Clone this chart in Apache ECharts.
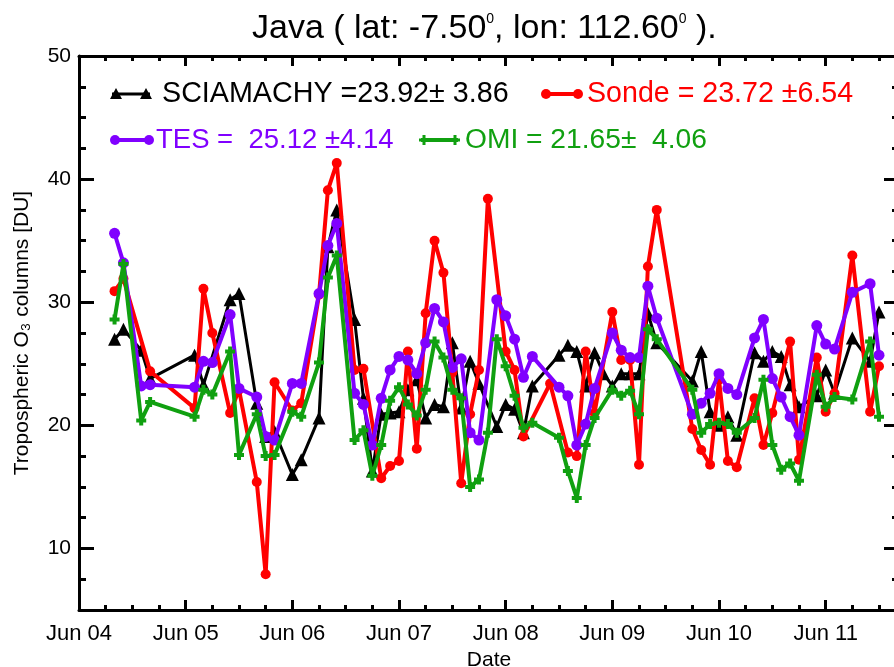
<!DOCTYPE html>
<html><head><meta charset="utf-8">
<script src="https://cdn.jsdelivr.net/npm/echarts@6/dist/echarts.min.js"></script>
<style>html,body{margin:0;padding:0;background:#fff}#c{width:894px;height:667px}</style>
</head><body><div id="c"></div>
<script>
// x = months since Jun 2004
const xTickLabels = ['Jun 04','Jun 05','Jun 06','Jun 07','Jun 08','Jun 09','Jun 10','Jun 11'];
const yTickLabels = [10,20,30,40,50];

const sciaX = [4,5,7,8,13,14,17,18,20,21,22,24,25,27,28,29,31,32,33,34,35,36,37,38,39,40,41,42,43,44,45,47,48,49,50,51,54,55,56,57,58,59,60,61,62,63,64,65,69,70,71,72,73,74,76,77,78,79,80,81,83,84,85,87,89,90];
const sciaY = [27.0,27.8,26.1,23.8,25.7,23.3,30.2,30.7,21.8,19.1,19.5,16.0,17.2,20.6,34.5,37.5,28.6,22.2,16.3,20.9,21.0,21.1,22.9,23.7,20.6,21.7,21.5,26.7,21.4,25.2,23.4,19.9,21.7,21.3,19.4,23.2,25.7,26.5,26.0,23.2,25.9,24.2,23.2,24.2,24.2,24.2,29.1,26.7,23.6,26.0,21.1,20.0,20.7,19.2,25.9,25.2,26.0,25.6,23.3,21.5,22.4,24.5,22.6,27.1,25.2,29.2];

const sondeX = [4,5,8,13,14,15,17,18,20,21,22,24,25,27,28,29,31,32,34,35,36,37,38,39,40,41,42,43,44,45,46,48,49,50,53,55,56,57,58,60,61,62,63,64,65,69,70,71,72,73,74,76,77,78,80,81,83,84,85,87,89,90];
const sondeY = [30.9,31.9,24.4,21.4,31.1,27.5,21.0,22.9,15.4,7.9,23.5,21.2,21.8,30.6,39.1,41.3,24.5,24.6,15.7,16.7,17.1,26.0,18.1,29.1,35.0,32.4,24.3,15.3,20.9,24.5,38.4,26.0,24.5,19.1,23.4,17.8,17.5,26.0,21.0,29.2,25.3,25.3,16.8,32.9,37.5,19.7,18.0,16.8,23.7,17.1,16.6,22.2,18.4,21.0,26.8,17.2,25.5,21.1,22.6,33.8,21.1,24.8];

const tesX = [4,5,7,8,13,14,15,17,18,20,21,22,24,25,27,28,29,31,32,33,34,35,36,37,38,39,40,41,42,43,44,45,47,48,49,50,51,54,55,56,57,58,60,61,62,63,64,65,69,70,71,72,73,74,76,77,78,79,80,81,83,84,85,87,89,90];
const tesY = [35.6,33.2,23.2,23.3,23.1,25.2,25.1,29.0,23.0,22.3,19.1,18.8,23.4,23.4,30.7,34.6,36.4,22.6,21.7,18.4,22.2,24.5,25.6,25.3,24.2,26.7,29.5,28.4,24.7,25.4,19.4,18.8,30.2,28.9,27.0,23.9,25.6,23.1,22.4,18.4,20.1,23.0,27.5,26.1,25.5,25.5,31.3,28.7,20.9,21.8,22.6,24.2,23.0,22.5,27.1,28.6,23.8,22.3,20.7,19.2,28.1,26.6,26.2,30.8,31.5,25.7];

const omiX = [4,5,7,8,13,14,15,17,18,20,21,22,24,25,27,28,29,31,32,33,34,35,36,37,38,39,40,41,42,43,44,45,46,47,48,49,50,51,54,55,56,57,58,60,61,62,63,64,65,69,70,71,72,73,74,76,77,78,79,80,81,83,84,85,87,89,90];
const omiY = [28.6,33.1,20.4,21.9,20.7,22.9,22.5,26.0,17.6,20.9,17.5,17.6,21.1,20.7,25.1,32.0,33.8,18.8,19.6,15.9,18.4,22.0,23.1,21.7,20.8,22.9,26.8,25.5,22.9,22.2,15.0,15.6,19.4,27.0,24.8,22.4,19.8,20.2,19.0,16.3,14.1,18.4,20.6,22.9,22.4,22.8,20.9,27.8,27.0,22.9,19.4,20.1,20.2,20.1,19.4,20.6,23.7,18.4,16.4,16.9,15.5,24.1,21.5,22.3,22.1,26.8,20.7];

const legendTexts = ['SCIAMACHY =23.92\u00b1 3.86','Sonde = 23.72 \u00b16.54','TES =  25.12 \u00b14.14','OMI = 21.65\u00b1  4.06'];

const XMAX = 92.25;
const FONT = 'Liberation Sans, Arial, sans-serif';
const C_BLACK = '#000000', C_RED = '#ff0000', C_PURPLE = '#8000ff', C_GREEN = '#10a010';
const plusPath = 'path://M3,0H7V3H10V7H7V10H3V7H0V3H3Z';

function zip(xs, ys){ return xs.map((x,i)=>[x, ys[i]]); }

const chart = echarts.init(document.getElementById('c'), null, {renderer:'canvas'});

function xAxisDef(pos, major, showLabel){
  return {
    type:'value', position: pos, min:0, max:XMAX, interval: major ? 12 : 3,
    axisLine:{show: major, onZero:false, lineStyle:{color:'#000', width:3}},
    axisTick:{show:true, inside:true, length: major ? 10 : 5, lineStyle:{color:'#000', width:3}},
    axisLabel:{show: showLabel, margin:13, color:'#000', fontSize:22, fontFamily:FONT, showMaxLabel:false,
      formatter: v => xTickLabels[Math.round(v/12)] || ''},
    splitLine:{show:false},
    name: showLabel ? 'Date' : '', nameLocation:'middle', nameGap:40,
    nameTextStyle:{color:'#000', fontSize:21, fontFamily:FONT}
  };
}
function yAxisDef(pos, major, showLabel){
  const d = {
    type:'value', position: pos, min:5, max:50,
    axisLine:{show: major, onZero:false, lineStyle:{color:'#000', width:3}},
    axisTick:{show:true, inside:true, length: major ? 15 : 7, lineStyle:{color:'#000', width:3}},
    axisLabel:{show: showLabel, margin:8, color:'#000', fontSize:21, fontFamily:FONT},
    splitLine:{show:false},
    name: showLabel ? 'Tropospheric O\u2083 columns [DU]' : '', nameLocation:'middle', nameGap:46, nameRotate:90,
    nameTextStyle:{color:'#000', fontSize:21, fontFamily:FONT}
  };
  if (major) {
    d.axisLabel.customValues = yTickLabels;
    d.axisTick.customValues = yTickLabels;
  } else {
    d.interval = 2.5;
  }
  return d;
}

function lineSeries(name, xs, ys, color, symbol, size, width, z){
  return {
    name, type:'line', data: zip(xs, ys), xAxisIndex:0, yAxisIndex:0,
    symbol, symbolSize:size, showAllSymbol:true,
    lineStyle:{color, width}, itemStyle:{color, borderWidth:0},
    emphasis:{disabled:true}, animation:false, z
  };
}

const legendY1 = 94, legendY2 = 140;
function tri(cx, cy){ return {type:'polygon', shape:{points:[[cx-6,cy+5],[cx+6,cy+5],[cx,cy-6]]}, style:{fill:C_BLACK}}; }
function dot(cx, cy, color, r){ return {type:'circle', shape:{cx, cy, r}, style:{fill:color}}; }
function plus(cx, cy){ return {type:'polygon', shape:{points:[[cx-1.5,cy-5],[cx+1.5,cy-5],[cx+1.5,cy-1.5],[cx+5,cy-1.5],[cx+5,cy+1.5],[cx+1.5,cy+1.5],[cx+1.5,cy+5],[cx-1.5,cy+5],[cx-1.5,cy+1.5],[cx-5,cy+1.5],[cx-5,cy-1.5],[cx-1.5,cy-1.5]]}, style:{fill:C_GREEN}}; }
function seg(x1,x2,y,color,w){ return {type:'line', shape:{x1,y1:y,x2,y2:y}, style:{stroke:color, lineWidth:w}}; }
function txt(x, y, t, color, fs){ return {type:'text', x, y, style:{text:t, fill:color, font:fs + 'px ' + FONT, verticalAlign:'middle'}}; }

const option = {
  backgroundColor:'#fff',
  animation:false,
  title:{
    text:'Java ( lat: -7.50{s|0}, lon: 112.60{s|0} ).',
    left:252, top:12, padding:0,
    textStyle:{color:'#000', fontSize:34, fontWeight:'normal', fontFamily:FONT,
      rich:{s:{fontSize:14, verticalAlign:'top', color:'#000', fontFamily:FONT, padding:[0,0,17,0]}}}
  },
  grid:{left:79, top:56, right:-5, bottom:57, containLabel:false, outerBoundsMode:'none'},
  xAxis:[xAxisDef('bottom', true, true), xAxisDef('bottom', false, false), xAxisDef('top', true, false), xAxisDef('top', false, false)],
  yAxis:[yAxisDef('left', true, true), yAxisDef('left', false, false), yAxisDef('right', true, false), yAxisDef('right', false, false)],
  series:[
    lineSeries('SCIAMACHY', sciaX, sciaY, C_BLACK, 'triangle', 13, 3, 2),
    lineSeries('Sonde', sondeX, sondeY, C_RED, 'circle', 10, 4, 3),
    lineSeries('TES', tesX, tesY, C_PURPLE, 'circle', 11, 4, 4),
    lineSeries('OMI', omiX, omiY, C_GREEN, plusPath, 10, 4, 5)
  ],
  graphic:[
    seg(112,150,legendY1,C_BLACK,3), tri(116,legendY1), tri(146,legendY1),
    txt(162, legendY1, legendTexts[0], C_BLACK, 28.7),
    seg(544,580,legendY1,C_RED,4), dot(546,legendY1,C_RED,5), dot(578,legendY1,C_RED,5),
    txt(587, legendY1, legendTexts[1], C_RED, 28.6),
    seg(113,151,legendY2,C_PURPLE,4), dot(115,legendY2,C_PURPLE,5), dot(149,legendY2,C_PURPLE,5),
    txt(156, legendY2, legendTexts[2], C_PURPLE, 27.5),
    seg(421,458,legendY2,C_GREEN,4), plus(424,legendY2), plus(455,legendY2),
    txt(465, legendY2, legendTexts[3], C_GREEN, 28.2)
  ]
};
chart.setOption(option);
</script>
</body></html>
